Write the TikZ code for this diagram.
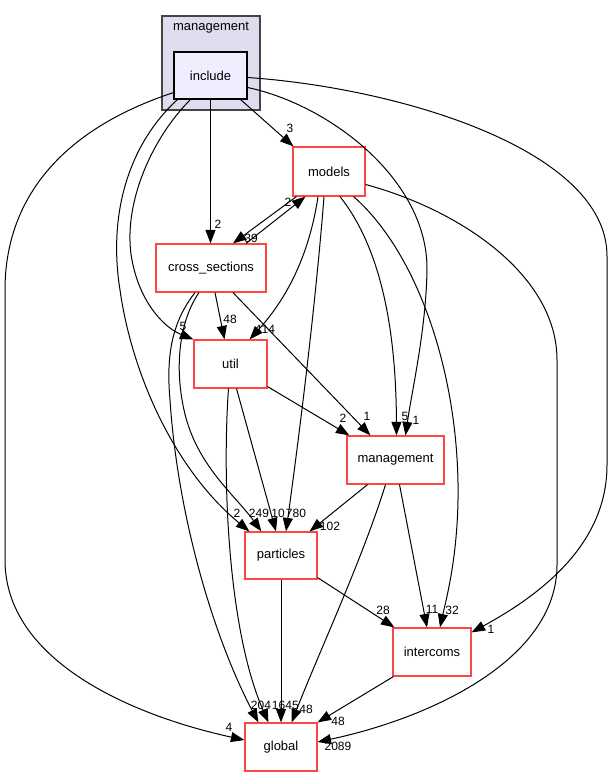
\documentclass[tikz,border=0pt]{standalone}
\usepackage{fontspec}
\setmainfont{Liberation Sans}
\usetikzlibrary{arrows.meta,calc}
\definecolor{boxred}{RGB}{255,70,70}
\definecolor{clusterfill}{RGB}{221,221,238}
\definecolor{clusterline}{RGB}{68,68,68}
\definecolor{incfill}{RGB}{238,238,255}
\tikzset{
  dirbox/.style={draw=boxred, line width=1.2pt, fill=white, inner sep=0pt, font=\fontsize{13}{15}\selectfont},
  incbox/.style={draw=black, line width=1.2pt, fill=incfill, inner sep=0pt, font=\fontsize{13}{15}\selectfont},
  edge/.style={line width=1pt, -{Triangle[length=13.5pt,width=10pt]}},
  lbl/.style={inner sep=0pt, font=\fontsize{12}{14}\selectfont}
}
\begin{document}
\begin{tikzpicture}[x=1pt,y=-1pt]
\useasboundingbox (0,0) rectangle (613,777);
% cluster
\filldraw[fill=clusterfill, draw=clusterline, line width=1.2pt] (162,16) rectangle (260,110);
\node[inner sep=0pt, font=\fontsize{13}{15}\selectfont] (clab) at (211,28) {management};
% nodes
\node[incbox, minimum width=73pt, minimum height=47pt] (include) at (210.5,75.5) {include};
\node[dirbox, minimum width=72pt, minimum height=49pt] (models) at (329,171.5) {models};
\node[dirbox, minimum width=110pt, minimum height=48pt] (cross) at (211,268) {cross\_sections};
\node[dirbox, minimum width=73pt, minimum height=48pt] (util) at (230.5,364) {util};
\node[dirbox, minimum width=97pt, minimum height=48pt] (mgmt) at (395.5,460) {management};
\node[dirbox, minimum width=72pt, minimum height=47pt] (particles) at (281,555.5) {particles};
\node[dirbox, minimum width=78pt, minimum height=48pt] (intercoms) at (432,652) {intercoms};
\node[dirbox, minimum width=72pt, minimum height=48pt] (global) at (281,747) {global};

% edges from include
\draw[edge] ($(include.south east)+(-7,0)$) -- ($(models.north west)+(1,0)$);
\draw[edge] (include.south) -- ($(cross.north)+(-0.5,0)$);
\draw[edge] ($(include.south west)+(17,0)$) .. controls (150,140) and (120,210) .. (133,265) .. controls (142,305) and (165,328) .. (util.north west);
\draw[edge] ($(include.south west)+(4,0)$) .. controls (128,145) and (108,215) .. (120,290) .. controls (132,375) and (175,470) .. ($(particles.north west)+(5,0)$);
\draw[edge] ($(include.south west)+(0,-7)$) .. controls (60,130) and (5,200) .. (5,290) -- (5,560) .. controls (5,660) and (130,715) .. ($(global.west)+(0,-7)$);
\draw[edge] ($(include.east)+(0,12)$) .. controls (330,105) and (428,180) .. (427,270) .. controls (426,330) and (412,390) .. ($(mgmt.north)+(10,0)$);
\draw[edge] ($(include.east)+(0,2)$) .. controls (400,88) and (607,150) .. (607,256) -- (607,465) .. controls (607,545) and (540,595) .. ($(intercoms.north east)+(0,5)$);

% models / cross_sections
\draw[edge] ($(cross.north)+(35,0)$) -- ($(models.south west)+(13,0)$);
\draw[edge] ($(models.south west)+(4,0)$) -- ($(cross.north)+(22,0)$);
\draw[edge] ($(models.south)+(-11,0)$) .. controls (310,250) and (290,295) .. ($(util.north east)+(-18,0)$);
\draw[edge] ($(models.south)+(-5,0)$) .. controls (316,300) and (300,430) .. ($(particles.north)+(5,0)$);
\draw[edge] ($(models.south)+(11,0)$) .. controls (376,242) and (396,315) .. ($(mgmt.north)+(1,0)$);
\draw[edge] ($(models.south east)+(-12,0)$) .. controls (420,255) and (460,380) .. (458,500) .. controls (457,560) and (446,600) .. ($(intercoms.north)+(8,0)$);
\draw[edge] ($(models.east)+(0,13)$) .. controls (460,210) and (557,275) .. (557,360) -- (557,565) .. controls (557,660) and (430,718) .. ($(global.east)+(0,-5)$);

% cross_sections out
\draw[edge] ($(cross.south)+(4,0)$) -- ($(util.north)+(-6,0)$);
\draw[edge] ($(cross.south)+(22,0)$) -- ($(mgmt.north west)+(24,0)$);
\draw[edge] ($(cross.south)+(-12,0)$) .. controls (180,320) and (174,365) .. (184,410) .. controls (196,465) and (235,495) .. ($(particles.north west)+(17,0)$);
\draw[edge] ($(cross.south)+(-16,0)$) .. controls (172,322) and (166,355) .. (170,400) .. controls (178,520) and (215,640) .. ($(global.north west)+(14,0)$);

% util out
\draw[edge] ($(util.south east)+(0,-2)$) -- ($(mgmt.north west)+(3,0)$);
\draw[edge] ($(util.south)+(6,0)$) -- ($(particles.north)+(-5,0)$);
\draw[edge] ($(util.south)+(-2,0)$) .. controls (222,480) and (228,630) .. ($(global.north west)+(24,0)$);

% management out
\draw[edge] ($(mgmt.south)+(4,0)$) -- ($(intercoms.north)+(-5,0)$);
\draw[edge] ($(mgmt.south)+(-28,0)$) -- ($(particles.north east)+(-8,0)$);
\draw[edge] ($(mgmt.south)+(-10,0)$) .. controls (362,560) and (320,650) .. ($(global.north east)+(-26,0)$);

% particles out
\draw[edge] (particles.south) -- (global.north);
\draw[edge] ($(particles.south east)+(0,-2)$) -- ($(intercoms.north west)+(2,0)$);

% intercoms out
\draw[edge] ($(intercoms.south west)+(1,0)$) -- (global.north east);

% labels
\node[lbl] (l1) at (290,128) {3};
\node[lbl] (l2) at (218,224) {2};
\node[lbl] (l3) at (183,326) {5};
\node[lbl] (l4) at (237,513) {2};
\node[lbl] (l5) at (229,727) {4};
\node[lbl] (l6) at (416,420) {1};
\node[lbl] (l7) at (491,629) {1};
\node[lbl] (l8) at (288,202) {2};
\node[lbl] (l9) at (251,238) {39};
\node[lbl] (l10) at (265,329) {414};
\node[lbl] (l11) at (296,513) {780};
\node[lbl] (l12) at (405,416) {5};
\node[lbl] (l13) at (452,610) {32};
\node[lbl] (l14) at (338,746) {2089};
\node[lbl] (l15) at (230,319) {48};
\node[lbl] (l16) at (367,416) {1};
\node[lbl] (l17) at (259,513) {249};
\node[lbl] (l18) at (261,705) {204};
\node[lbl] (l19) at (343,418) {2};
\node[lbl] (l20) at (278,513) {10};
\node[lbl] (l21) at (278.5,705) {16};
\node[lbl] (l22) at (292,705) {45};
\node[lbl] (l23) at (383,610) {28};
\node[lbl] (l24) at (432,609) {11};
\node[lbl] (l25) at (330,526) {102};
\node[lbl] (l26) at (306,709) {48};
\node[lbl] (l27) at (338,721) {48};
\end{tikzpicture}
\end{document}
